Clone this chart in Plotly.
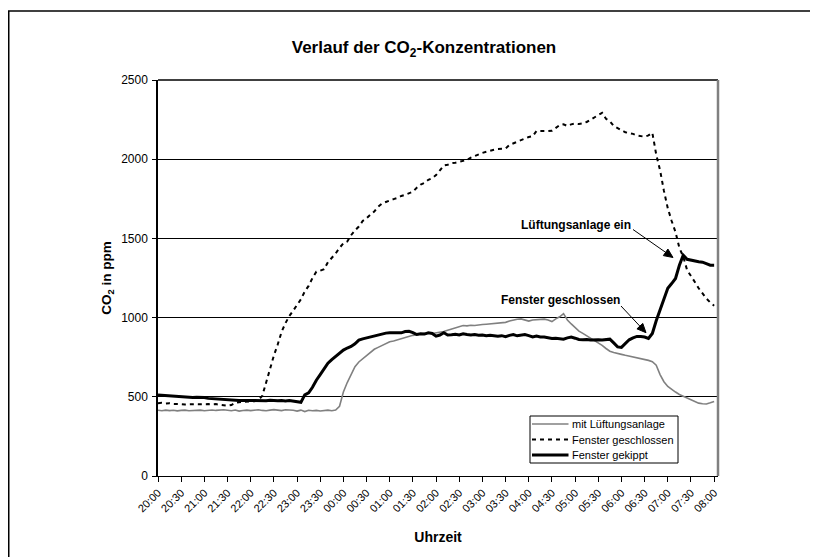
import math
import plotly.graph_objects as go

# ---------------- data (5-minute readings from 20:00 to 08:00) ----------------
STEP_MIN = 5
mit_lueftungsanlage = [
    415, 412, 416, 413, 415, 411, 414, 416, 412, 414,
    413, 416, 412, 415, 417, 414, 416, 418, 415, 412,
    417, 410, 414, 416, 413, 415, 418, 414, 412, 416,
    419, 416, 413, 418, 417, 415, 410, 416, 407, 415,
    412, 414, 410, 414, 416, 412,
    416, 440, 530, 590, 640, 690, 720, 740, 765, 785,
    800, 812, 825, 838, 848, 852, 860, 866, 875, 884,
    888, 892, 895, 902, 904, 900, 903, 905, 912, 920,
    928, 935, 942, 950, 948, 952, 950, 955, 956, 958,
    960, 962, 965, 968, 970, 978, 985, 990, 992, 985,
    978, 985, 988, 987, 990, 985, 975, 992, 1005, 1025,
    985, 960, 938, 915, 900, 885, 868, 855, 843, 825,
    805, 788, 780, 772, 768, 762, 757, 751, 746, 742,
    735, 730, 722, 700, 640, 595, 565, 545, 530, 515,
    505, 494, 482, 470, 460, 456, 455, 462, 470,
]
fenster_geschlossen = [
    460, 462, 458, 460, 455, 456, 454, 452, 454, 455,
    454, 453, 455, 454, 452, 454, 450, 446, 444, 448,
    462, 466, 468, 470, 470, 472, 480, 506, 590, 680,
    760, 830, 910, 965, 1010, 1044, 1080, 1115, 1165, 1200,
    1250, 1290, 1296, 1305, 1350, 1375, 1405, 1440, 1469, 1480,
    1520, 1550, 1575, 1610, 1627, 1650, 1670, 1700, 1720, 1730,
    1740, 1748, 1755, 1768, 1775, 1785, 1795, 1820, 1840, 1850,
    1870, 1880, 1900, 1930, 1960, 1965, 1975, 1978, 1985, 1990,
    1995, 2010, 2020, 2035, 2040, 2047, 2055, 2060, 2065, 2068,
    2068, 2090, 2100, 2115, 2125, 2130, 2140, 2145, 2178, 2178,
    2176, 2178, 2180, 2200, 2215, 2220, 2210, 2220, 2225, 2222,
    2226, 2235, 2250, 2260, 2280, 2293, 2255, 2240, 2210, 2195,
    2180, 2170, 2165, 2160, 2150, 2148, 2142, 2150, 2167, 2030,
    1930, 1800, 1690, 1610, 1540, 1440, 1385, 1300, 1265, 1225,
    1185, 1150, 1120, 1095, 1075,
]
fenster_gekippt = [
    512, 510, 508, 505, 506, 502, 500, 501, 498, 496,
    497, 497, 495, 490, 488, 485, 482, 480, 478, 477,
    478, 476, 477, 476, 477, 475, 476, 474, 475, 478,
    476, 475, 477, 474, 476, 472, 468, 465, 512, 525,
    560, 605, 640, 680, 712, 735, 755, 778, 795, 808,
    818, 835, 858, 866, 872, 880, 887, 890, 895, 902,
    904, 903, 906, 904, 912, 914, 905, 893, 898, 896,
    904, 900, 883, 890, 904, 890, 892, 895, 890, 898,
    893, 890, 893, 888, 890, 886, 888, 884, 883, 886,
    880, 888, 893, 885, 888, 893, 886, 878, 884, 878,
    877, 874, 868, 870, 866, 864, 872, 877, 870, 862,
    860, 862, 858, 860, 860, 858, 862, 864, 840, 815,
    812, 835, 860, 872, 881, 880, 877, 868, 900, 980,
    1048, 1120, 1185, 1215, 1247, 1330, 1394, 1368, 1362, 1358,
    1352, 1350, 1338, 1331, 1331,
]
tick_labels = [
    "20:00", "20:30", "21:00", "21:30", "22:00", "22:30", "23:00", "23:30",
    "00:00", "00:30", "01:00", "01:30", "02:00", "02:30", "03:00", "03:30",
    "04:00", "04:30", "05:00", "05:30", "06:00", "06:30", "07:00", "07:30",
    "08:00",
]
y_ticks = [0, 500, 1000, 1500, 2000, 2500]
series_names = ["mit Lüftungsanlage", "Fenster geschlossen", "Fenster gekippt"]

assert len(mit_lueftungsanlage) == len(fenster_geschlossen) == len(fenster_gekippt) == 145

minutes = [i * STEP_MIN for i in range(len(fenster_gekippt))]
tick_vals = [i * 30 for i in range(len(tick_labels))]

FONT = "Arial, 'Liberation Sans', sans-serif"
STYLES = [
    dict(color="#808080", width=1.6),
    dict(color="#000000", width=2, dash="4px,4px"),
    dict(color="#000000", width=3),
]

fig = go.Figure()
for name, vals, st in zip(series_names,
                          [mit_lueftungsanlage, fenster_geschlossen, fenster_gekippt],
                          STYLES):
    fig.add_trace(go.Scatter(x=minutes, y=vals, mode="lines", name=name,
                             line=st, showlegend=False))

# page is offset by the browser's 8px body margin
OFF = 8
W, H = 810, 549
L = 158 - OFF
T = 80 - OFF
R = W - (718 - OFF)
B = H - (476 - OFF)
pw, ph = W - L - R, H - T - B


def px(X):
    """page x pixel -> paper x"""
    return (X - OFF - L) / pw


def py(Y):
    """page y pixel -> paper y"""
    return (H - B - (Y - OFF)) / ph


fig.update_layout(
    width=W, height=H,
    margin=dict(l=L, r=R, t=T, b=B, pad=0),
    paper_bgcolor="white", plot_bgcolor="white",
    font=dict(family=FONT, color="black", size=11),
    showlegend=False,
    title=dict(text="Verlauf der CO<sub>2</sub>-Konzentrationen",
               x=px(424), xref="paper", xanchor="center",
               y=1 - (47 - OFF) / H, yref="container", yanchor="middle",
               font=dict(size=17, family=FONT, color="black", weight="bold")),
    xaxis=dict(range=[0, 725], tickmode="array", tickvals=tick_vals,
               ticktext=tick_labels, tickangle=-45, ticks="outside",
               ticklen=5, tickcolor="black", tickfont=dict(size=11),
               showgrid=False, zeroline=False, showline=True,
               linecolor="black", linewidth=1,
               title=dict(text="<b>Uhrzeit</b>", standoff=18,
                          font=dict(size=14, family=FONT))),
    yaxis=dict(range=[0, 2500], tickmode="array",
               tickvals=y_ticks, ticktext=[str(v) for v in y_ticks],
               ticks="outside", ticklen=4, tickcolor="black",
               tickfont=dict(size=12), ticklabelstandoff=2,
               showgrid=True, gridcolor="black",
               gridwidth=1, zeroline=False, showline=True,
               linecolor="black", linewidth=1.5,
               title=dict(text="<b>CO<sub>2</sub> in ppm</b>", standoff=6,
                          font=dict(size=13.5, family=FONT))),
)


def arrow_shapes(tail, tip, head_len=9, half_w=4):
    (x0, y0), (x1, y1) = tail, tip
    dx, dy = x1 - x0, y1 - y0
    n = math.hypot(dx, dy)
    ux, uy = dx / n, dy / n
    bx, by = x1 - head_len * ux, y1 - head_len * uy
    qx, qy = -uy, ux
    c1 = (bx + half_w * qx, by + half_w * qy)
    c2 = (bx - half_w * qx, by - half_w * qy)
    path = "M {:.5f},{:.5f} L {:.5f},{:.5f} L {:.5f},{:.5f} Z".format(
        px(x1), py(y1), px(c1[0]), py(c1[1]), px(c2[0]), py(c2[1]))
    return [
        dict(type="line", xref="paper", yref="paper",
             x0=px(x0), y0=py(y0), x1=px(bx), y1=py(by),
             line=dict(color="black", width=1)),
        dict(type="path", xref="paper", yref="paper", path=path,
             fillcolor="black", line=dict(color="black", width=1)),
    ]


shapes = [
    # plot-area top and right borders
    dict(type="line", xref="paper", yref="paper", x0=0, x1=1, y0=1, y1=1,
         line=dict(color="black", width=1.5)),
    dict(type="line", xref="paper", yref="paper", x0=1, x1=1, y0=0, y1=1,
         line=dict(color="#808080", width=2.5)),
    # outer chart frame (left and top)
    dict(type="line", xref="paper", yref="paper", x0=px(8.75), x1=px(8.75),
         y0=py(11), y1=py(600), line=dict(color="black", width=1.5)),
    dict(type="line", xref="paper", yref="paper", x0=px(8), x1=px(900),
         y0=py(11), y1=py(11), line=dict(color="black", width=1.5)),
]
shapes += arrow_shapes((633, 229.5), (673, 257.5))
shapes += arrow_shapes((621, 306), (646, 332.7))

# legend box (drawn by hand to match the compact Excel legend)
LEG_X0, LEG_X1, LEG_Y0, LEG_Y1 = 530, 678, 416, 463
LEG_ROWS = [424, 439.5, 455]
shapes.append(dict(type="rect", xref="paper", yref="paper",
                   x0=px(LEG_X0), x1=px(LEG_X1), y0=py(LEG_Y0), y1=py(LEG_Y1),
                   fillcolor="white", line=dict(color="black", width=1),
                   layer="above"))
for st, yrow in zip(STYLES, LEG_ROWS):
    shapes.append(dict(type="line", xref="paper", yref="paper",
                       x0=px(LEG_X0 + 2), x1=px(568.5), y0=py(yrow), y1=py(yrow),
                       line=st, layer="above"))
fig.update_layout(shapes=shapes)

annotations = [
    dict(text="<b>Lüftungsanlage ein</b>", xref="paper", yref="paper",
         x=px(576), y=py(225), xanchor="center", yanchor="middle",
         showarrow=False, font=dict(size=12, family=FONT)),
    dict(text="<b>Fenster geschlossen</b>", xref="paper", yref="paper",
         x=px(560), y=py(300), xanchor="center", yanchor="middle",
         showarrow=False, font=dict(size=12, family=FONT)),
]
for name, yrow in zip(series_names, LEG_ROWS):
    annotations.append(dict(text=name, xref="paper", yref="paper",
                            x=px(569.5), y=py(yrow), xanchor="left",
                            yanchor="middle", showarrow=False,
                            font=dict(size=11, family=FONT)))
fig.update_layout(annotations=annotations)

fig.write_html("out.html")
